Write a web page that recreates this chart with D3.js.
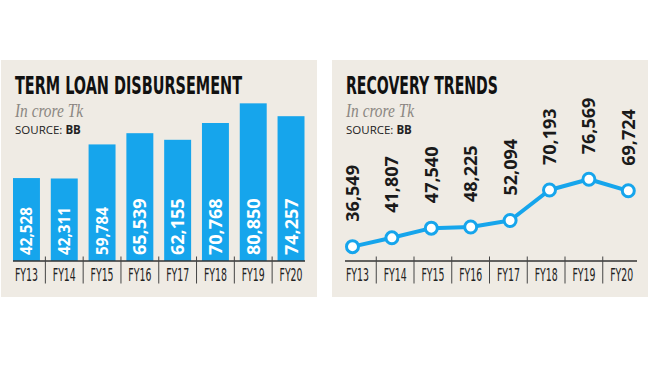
<!DOCTYPE html>
<html><head><meta charset="utf-8">
<script src="https://cdn.jsdelivr.net/npm/d3@7"></script>
<style>body{margin:0;background:#fff}svg{display:block}</style>
</head><body>
<svg id="c" width="650" height="365"></svg>
<script>
const categories = ["FY13","FY14","FY15","FY16","FY17","FY18","FY19","FY20"];
const disbursement = [42528,42311,59784,65539,62155,70768,80850,74257];
const recovery = [36549,41807,47540,48225,52094,70193,76569,69724];
const titles = ["TERM LOAN DISBURSEMENT","RECOVERY TRENDS"];
const subtitle = "In crore Tk";
const sourceLabel = "SOURCE: ", sourceName = "BB";

const svg = d3.select("#c");
const fmt = d3.format(",");
const blue = "#16a5ec";
const panelBg = "#efebe4";
const condensed = "'Liberation Sans Narrow','DejaVu Sans Condensed',sans-serif";

function header(g, x, title, titleLen) {
  g.append("text").attr("x", x).attr("y", 94)
    .attr("font-family", condensed).attr("font-weight", "bold").attr("font-size", 24)
    .attr("fill", "#111").attr("textLength", titleLen).attr("lengthAdjust", "spacingAndGlyphs")
    .text(title);
  g.append("text").attr("x", x).attr("y", 117)
    .attr("font-family", "'Liberation Serif',serif").attr("font-style", "italic").attr("font-size", 19)
    .attr("fill", "#8b8782").attr("textLength", 68).attr("lengthAdjust", "spacingAndGlyphs")
    .text(subtitle);
  const s = g.append("text").attr("x", x).attr("y", 133.5)
    .attr("font-family", "'Open Sans',sans-serif").attr("font-size", 11.5).attr("fill", "#222");
  s.append("tspan").text(sourceLabel);
  s.append("tspan").attr("font-weight", "bold").text(sourceName);
}

function axisRow(g, band, x0, x1) {
  const axisY = 261;
  g.append("line").attr("x1", x0).attr("x2", x1).attr("y1", axisY).attr("y2", axisY)
    .attr("stroke", "#333").attr("stroke-width", 1.3);
  const step = band.step();
  const bounds = categories.slice(1).map(c => band(c) - (step - band.bandwidth()) / 2);
  g.selectAll(".sep").data(bounds).join("line")
    .attr("x1", d => d).attr("x2", d => d).attr("y1", 256.5).attr("y2", 283.5)
    .attr("stroke", "#444").attr("stroke-width", 1);
  g.selectAll(".fy").data(categories).join("text")
    .attr("x", d => band(d) + band.bandwidth() / 2).attr("y", 280.5)
    .attr("text-anchor", "middle")
    .attr("font-family", condensed).attr("font-size", 17).attr("fill", "#222")
    .attr("textLength", 23).attr("lengthAdjust", "spacingAndGlyphs")
    .text(d => d);
}

// Panels
svg.append("rect").attr("x", 1).attr("y", 60).attr("width", 316).attr("height", 237).attr("fill", panelBg);
svg.append("rect").attr("x", 332).attr("y", 60).attr("width", 316).attr("height", 237).attr("fill", panelBg);

// Left: bar chart
const gL = svg.append("g");
header(gL, 15, titles[0], 227);
const xL = d3.scaleBand().domain(categories).range([13, 304.5]).paddingInner(0.287).paddingOuter(0);
const yL = d3.scaleLinear().domain([0, 85000]).range([261, 261 - 85 * 1.95]);
gL.selectAll(".bar").data(disbursement).join("rect")
  .attr("x", (d, i) => xL(categories[i])).attr("width", xL.bandwidth())
  .attr("y", d => yL(d)).attr("height", d => yL(0) - yL(d))
  .attr("fill", blue);
gL.selectAll(".bl").data(disbursement).join("text")
  .attr("transform", (d, i) => `translate(${xL(categories[i]) + xL.bandwidth() / 2},255) rotate(-90)`)
  .attr("dy", "0.36em")
  .attr("font-family", "'Open Sans',sans-serif").attr("font-weight", "bold")
  .attr("font-size", d => d < 60000 ? 15.3 : 18)
  .attr("fill", "#fff")
  .text(d => fmt(d));
axisRow(gL, xL, 13, 305);

// Right: line chart
const gR = svg.append("g");
header(gR, 346, titles[1], 152);
const xRb = d3.scaleBand().domain(categories).range([338.5, 640.5]).padding(0);
const xR = d3.scalePoint().domain(categories).range([352.5, 628.3]);
const yR = d3.scaleLinear().domain([30000, 80000]).range([257.7, 173.5]);
axisRow(gR, xRb, 345, 637);
const line = d3.line().x((d, i) => xR(categories[i])).y(d => yR(d));
gR.append("path").datum(recovery).attr("d", line)
  .attr("fill", "none").attr("stroke", blue).attr("stroke-width", 4).attr("stroke-linejoin", "round");
gR.selectAll(".pt").data(recovery).join("circle")
  .attr("cx", (d, i) => xR(categories[i])).attr("cy", d => yR(d)).attr("r", 6)
  .attr("fill", "#fff").attr("stroke", blue).attr("stroke-width", 3);
gR.selectAll(".vl").data(recovery).join("text")
  .attr("transform", (d, i) => `translate(${xR(categories[i])},${yR(d) - 25}) rotate(-90)`)
  .attr("dy", "0.36em")
  .attr("font-family", "'Open Sans',sans-serif").attr("font-weight", "bold").attr("font-size", 18)
  .attr("fill", "#1a1a1a")
  .text(d => fmt(d));
</script>
</body></html>
